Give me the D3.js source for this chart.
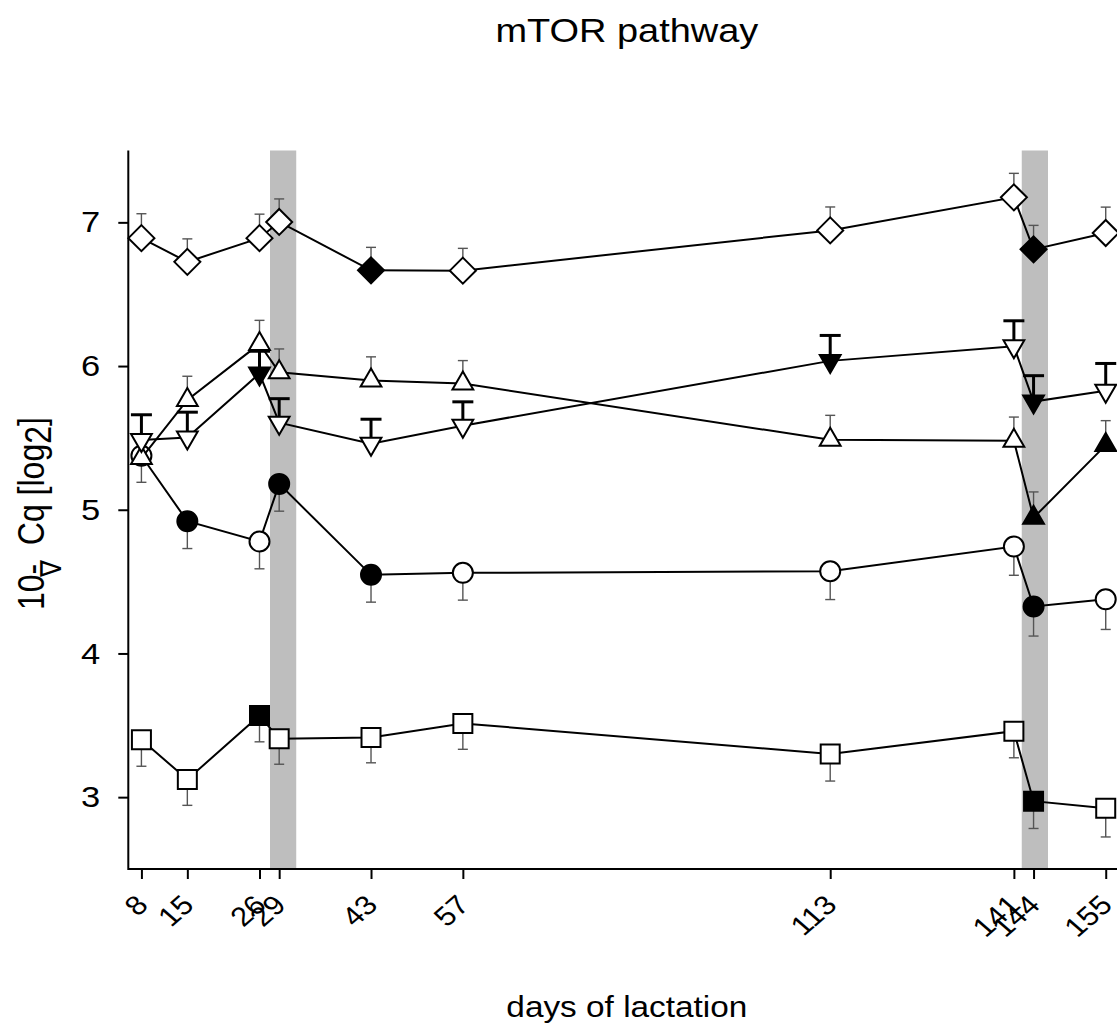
<!DOCTYPE html>
<html>
<head>
<meta charset="utf-8">
<script src="https://cdn.jsdelivr.net/npm/d3@7"></script>
<style>
  html, body { margin: 0; padding: 0; background: #fff; }
  svg { display: block; font-family: "Liberation Sans", Arial, Helvetica, sans-serif; }
</style>
</head>
<body>
<svg id="chart" width="1117" height="1025"></svg>
<script>
// sampling days (x positions and tick labels)
const days = [8, 15, 26, 29, 43, 57, 113, 141, 144, 155];
const dayLabels = ["8", "15", "26", "29", "43", "57", "113", "141", "144", "155"];
const yTicks = [3, 4, 5, 6, 7];

// shaded periods (days)
const shadeStart = [27.6, 142.2];
const shadeEnd = [31.6, 146.2];

// gene 1 – diamonds
const diamondMean = [6.89, 6.725, 6.89, 7.003, 6.666, 6.664, 6.944, 7.174, 6.812, 6.926];
const diamondSE   = [0.17, 0.16, 0.167, 0.16, 0.16, 0.155, 0.163, 0.167, 0.167, 0.18];
const diamondSig  = [0, 0, 0, 0, 1, 0, 0, 0, 1, 0];

// gene 2 – upward triangles
const upTriMean = [5.36, 5.764, 6.154, 5.957, 5.899, 5.878, 5.487, 5.48, 4.944, 5.45];
const upTriSE   = [0.16, 0.165, 0.164, 0.162, 0.165, 0.16, 0.17, 0.165, 0.18, 0.17];
const upTriSig  = [0, 0, 0, 0, 0, 0, 0, 0, 1, 1];

// gene 3 – downward triangles
const downTriMean = [5.485, 5.503, 5.948, 5.606, 5.46, 5.585, 6.036, 6.137, 5.753, 5.828];
const downTriSE   = [0.176, 0.176, 0.155, 0.167, 0.17, 0.166, 0.177, 0.178, 0.18, 0.19];
const downTriSig  = [0, 0, 1, 0, 0, 0, 1, 0, 1, 0];

// gene 4 – circles
const circleMean = [5.376, 4.92, 4.779, 5.18, 4.547, 4.561, 4.572, 4.744, 4.327, 4.377];
const circleSE   = [0.185, 0.19, 0.19, 0.19, 0.19, 0.19, 0.197, 0.2, 0.206, 0.21];
const circleSig  = [0, 1, 0, 1, 1, 0, 0, 0, 1, 0];

// gene 5 – squares
const squareMean = [3.399, 3.123, 3.568, 3.406, 3.415, 3.513, 3.3, 3.459, 2.972, 2.923];
const squareSE   = [0.184, 0.18, 0.183, 0.177, 0.176, 0.18, 0.188, 0.185, 0.19, 0.2];
const squareSig  = [0, 0, 1, 0, 0, 0, 0, 0, 1, 0];

// marker outlines, centred on (0,0)
const shapes = {
  square:  "M-9.5,-9.5H9.5V9.5H-9.5Z",
  circle:  "M10,0A10,10 0 1,1 -10,0A10,10 0 1,1 10,0Z",
  diamond: "M0,-13L13,0L0,13L-13,0Z",
  up:      "M0,-12L10.4,6L-10.4,6Z",
  down:    "M0,12L10.4,-6L-10.4,-6Z"
};

const series = [
  { mean: squareMean,  se: squareSE,  sig: squareSig,  shape: "square",  dir: 1,  thick: false },
  { mean: circleMean,  se: circleSE,  sig: circleSig,  shape: "circle",  dir: 1,  thick: false },
  { mean: diamondMean, se: diamondSE, sig: diamondSig, shape: "diamond", dir: -1, thick: false },
  { mean: upTriMean,   se: upTriSE,   sig: upTriSig,   shape: "up",      dir: -1, thick: false },
  { mean: downTriMean, se: downTriSE, sig: downTriSig, shape: "down",    dir: -1, thick: true }
];

// text on this device is drawn slightly wide
const stretch = 1.15;

const svg = d3.select("#chart");
const plotLeft = 128.3, plotRight = 1125.4, plotTop = 150.5, plotBottom = 869;

const x = d3.scaleLinear().domain([6, 158]).range([plotLeft, plotRight]);
const y = d3.scaleLinear().domain([2.5, 7.5]).range([plotBottom, plotTop]);

// shaded periods
svg.append("g").selectAll("rect")
  .data(d3.range(shadeStart.length))
  .join("rect")
  .attr("x", i => x(shadeStart[i]))
  .attr("width", i => x(shadeEnd[i]) - x(shadeStart[i]))
  .attr("y", plotTop)
  .attr("height", plotBottom - plotTop)
  .attr("fill", "#bebebe");

// series: connecting line, error bars, markers
series.forEach(s => {
  const pts = days.map((d, i) => ({ d, v: s.mean[i], e: s.se[i], f: s.sig[i] }));
  const g = svg.append("g");

  g.append("path")
    .attr("d", d3.line().x(p => x(p.d)).y(p => y(p.v))(pts))
    .attr("fill", "none")
    .attr("stroke", "#000")
    .attr("stroke-width", 2);

  const capHalf = s.thick ? 10.5 : 5;
  const barColor = s.thick ? "#000" : "#555";
  const barWidth = s.thick ? 3 : 1.4;
  const bars = g.append("g").attr("stroke", barColor).attr("stroke-width", barWidth);
  pts.forEach(p => {
    const yEnd = y(p.v + (s.dir < 0 ? p.e : -p.e));
    bars.append("line")
      .attr("x1", x(p.d)).attr("x2", x(p.d))
      .attr("y1", y(p.v)).attr("y2", yEnd);
    bars.append("line")
      .attr("x1", x(p.d) - capHalf).attr("x2", x(p.d) + capHalf)
      .attr("y1", yEnd).attr("y2", yEnd);
  });

  g.selectAll("path.pt")
    .data(pts)
    .join("path")
    .attr("class", "pt")
    .attr("d", shapes[s.shape])
    .attr("transform", p => `translate(${x(p.d)},${y(p.v)})`)
    .attr("fill", p => p.f ? "#000" : "#fff")
    .attr("stroke", "#000")
    .attr("stroke-width", 2);
});

// axes
const yAxis = svg.append("g")
  .attr("transform", `translate(${plotLeft},0)`)
  .call(d3.axisLeft(y).tickValues(yTicks).tickSize(10).tickFormat(d3.format("d")));
yAxis.select(".domain").remove();
yAxis.selectAll("line").attr("stroke", "#000").attr("stroke-width", 2);
yAxis.selectAll("text")
  .attr("font-size", 30)
  .attr("font-family", "Liberation Sans, Arial, sans-serif")
  .attr("fill", "#000")
  .attr("x", 0)
  .attr("transform", `translate(-28,0) scale(${stretch},1)`);

const xAxis = svg.append("g")
  .attr("transform", `translate(0,${plotBottom})`)
  .call(d3.axisBottom(x).tickValues(days).tickSize(10).tickFormat((d, i) => dayLabels[i]));
xAxis.select(".domain").remove();
xAxis.selectAll("line").attr("stroke", "#000").attr("stroke-width", 2);
xAxis.selectAll("text")
  .attr("font-size", 27)
  .attr("font-family", "Liberation Sans, Arial, sans-serif")
  .attr("fill", "#000")
  .attr("text-anchor", "end")
  .attr("y", 0)
  .attr("dy", "0.35em")
  .attr("transform", `translate(0,31) scale(${stretch},1) rotate(-45)`);

// L-shaped frame
svg.append("path")
  .attr("d", `M${plotLeft},${plotTop}V${plotBottom}H${plotRight}`)
  .attr("fill", "none")
  .attr("stroke", "#000")
  .attr("stroke-width", 2);

// titles
const midX = (plotLeft + plotRight) / 2;
svg.append("text")
  .attr("transform", `translate(${midX},42) scale(${stretch},1)`)
  .attr("text-anchor", "middle")
  .attr("font-size", 33)
  .text("mTOR pathway");

svg.append("text")
  .attr("transform", `translate(${midX},1017) scale(${stretch},1)`)
  .attr("text-anchor", "middle")
  .attr("font-size", 29)
  .text("days of lactation");

// y axis title, read bottom to top
const yl = svg.append("text")
  .attr("transform", `translate(44,610) scale(${stretch},1) rotate(-90)`)
  .attr("text-anchor", "start")
  .attr("font-size", 32);
yl.append("tspan").text("10-");
yl.append("tspan").attr("dx", -13).attr("dy", 15).attr("font-size", 25).text("\u2207");
yl.append("tspan").attr("dx", 6).attr("dy", -15).text(" Cq [log");
yl.append("tspan").attr("dy", 6).text("2");
yl.append("tspan").attr("dy", -6).text("]");
</script>
</body>
</html>
